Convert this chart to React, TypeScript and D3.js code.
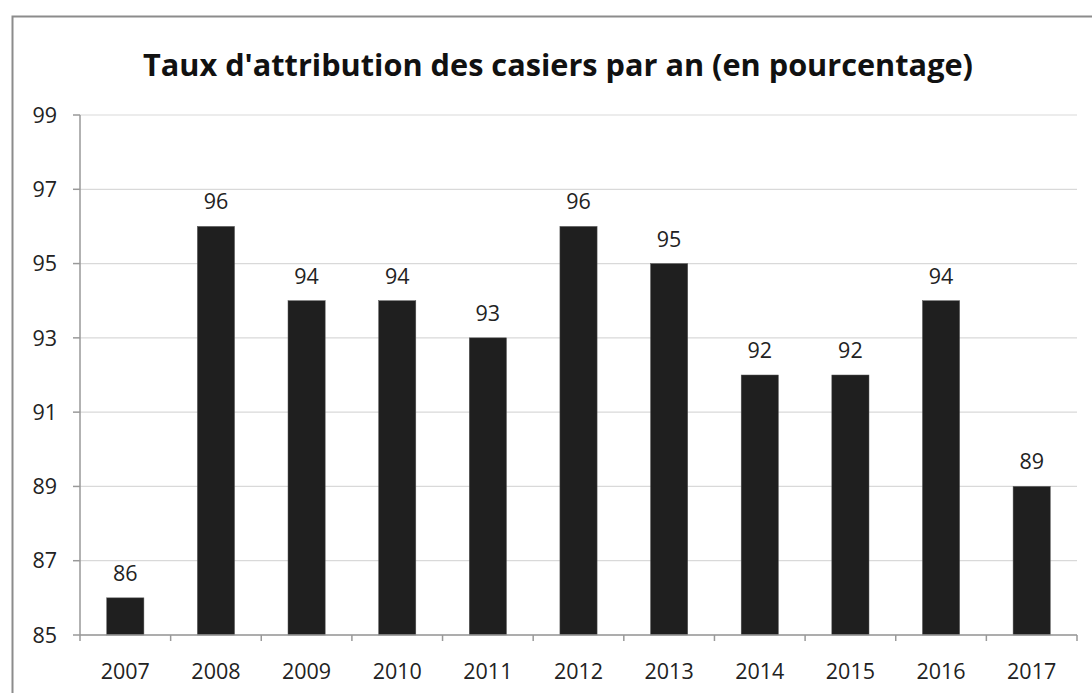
import React from "react";
import * as d3 from "d3";

const years = ["2007", "2008", "2009", "2010", "2011", "2012", "2013", "2014", "2015", "2016", "2017"];
const rates = [86, 96, 94, 94, 93, 96, 95, 92, 92, 94, 89];
const yTicks = [85, 87, 89, 91, 93, 95, 97, 99];
const title = "Taux d'attribution des casiers par an (en pourcentage)";

const W = 1092;
const H = 693;
const margin = { top: 115, right: 15, bottom: 58, left: 80 };
const font = "'Open Sans', 'Noto Sans', sans-serif";
const fs = 21.5;

export default function App() {
  const x = d3
    .scaleBand<string>()
    .domain(years)
    .range([margin.left, W - margin.right])
    .paddingInner(0.59)
    .paddingOuter(0.295);
  const bands = d3.scaleBand<string>().domain(years).range([margin.left, W - margin.right]);
  const y = d3.scaleLinear().domain([85, 99]).range([H - margin.bottom, margin.top]);
  const base = y(85);

  return (
    <svg width={W} height={H} style={{ position: "absolute", left: 0, top: 0, background: "#fff" }}>
      <rect x={12.5} y={16.5} width={W} height={H} fill="#fff" stroke="#8c8c8c" strokeWidth={2} />
      <text
        x={558}
        y={76}
        textAnchor="middle"
        fontFamily={font}
        fontWeight="bold"
        fontSize={30}
        textLength={830}
        lengthAdjust="spacingAndGlyphs"
        fill="#111"
      >
        {title}
      </text>

      {/* grid */}
      {yTicks.map((t) => (
        <line key={"g" + t} x1={margin.left} x2={W - margin.right} y1={y(t)} y2={y(t)} stroke="#d9d9d9" strokeWidth={1.2} />
      ))}

      {/* y axis */}
      <line x1={margin.left} x2={margin.left} y1={y(99)} y2={base} stroke="#999" strokeWidth={1.5} />
      {yTicks.map((t) => (
        <g key={"y" + t}>
          <line x1={margin.left - 7} x2={margin.left} y1={y(t)} y2={y(t)} stroke="#999" strokeWidth={1.5} />
          <text x={57} y={y(t)} dy="0.36em" textAnchor="end" fontFamily={font} fontSize={fs} fill="#222">
            {t}
          </text>
        </g>
      ))}

      {/* bars */}
      {years.map((yr, i) => (
        <g key={yr}>
          <rect x={x(yr)} y={y(rates[i])} width={x.bandwidth()} height={base - y(rates[i])} fill="#1f1f1f" stroke="#555" strokeWidth={0.5} />
          <text x={(x(yr) ?? 0) + x.bandwidth() / 2} y={y(rates[i]) - 17} textAnchor="middle" fontFamily={font} fontSize={fs} fill="#222">
            {rates[i]}
          </text>
        </g>
      ))}

      {/* x axis */}
      <line x1={margin.left} x2={W - margin.right} y1={base} y2={base} stroke="#999" strokeWidth={1.5} />
      {years.concat(["end"]).map((yr, i) => {
        const px = i < years.length ? bands(yr) ?? 0 : W - margin.right;
        return <line key={"t" + i} x1={px} x2={px} y1={base} y2={base + 6} stroke="#999" strokeWidth={1.5} />;
      })}
      {years.map((yr) => (
        <text key={"l" + yr} x={(bands(yr) ?? 0) + bands.bandwidth() / 2} y={679} textAnchor="middle" fontFamily={font} fontSize={fs} fill="#222">
          {yr}
        </text>
      ))}
    </svg>
  );
}
